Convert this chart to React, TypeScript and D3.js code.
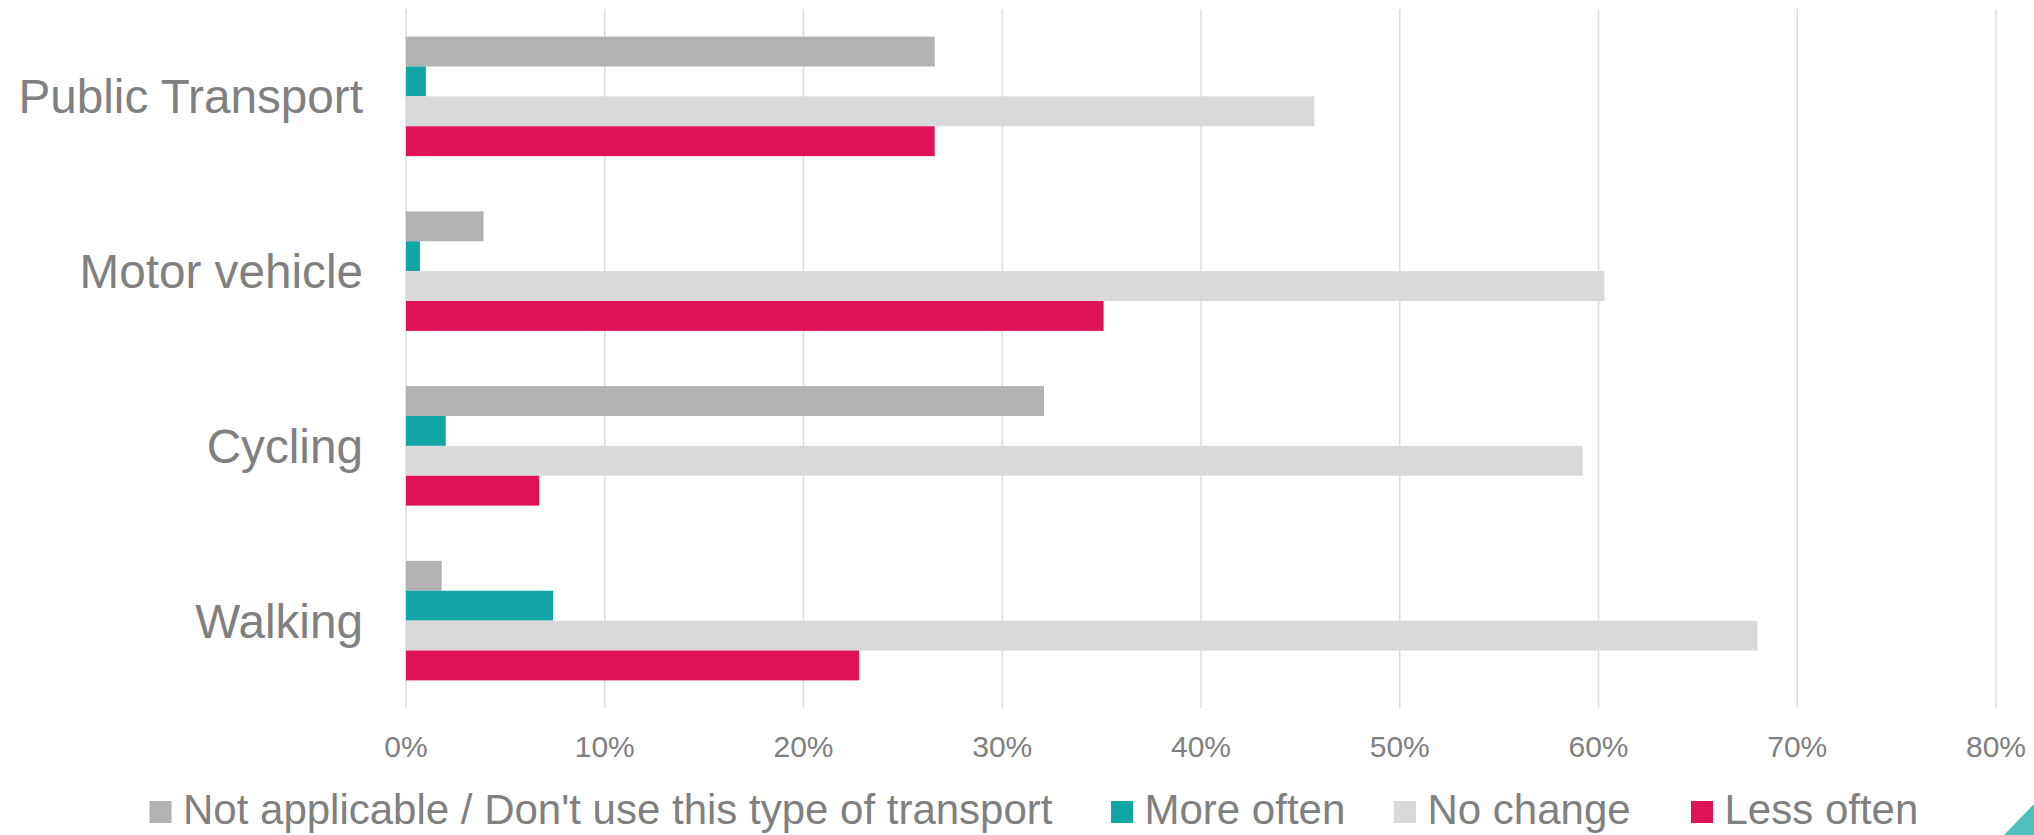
import React from "react";
import * as d3 from "d3";

const categories = ["Public Transport", "Motor vehicle", "Cycling", "Walking"];
const seriesNames = [
  "Not applicable / Don't use this type of transport",
  "More often",
  "No change",
  "Less often",
];
const notApplicable = [26.6, 3.9, 32.1, 1.8];
const moreOften = [1.0, 0.7, 2.0, 7.4];
const noChange = [45.7, 60.3, 59.2, 68.0];
const lessOften = [26.6, 35.1, 6.7, 22.8];
const xTicks = [0, 10, 20, 30, 40, 50, 60, 70, 80];

const seriesValues = [notApplicable, moreOften, noChange, lessOften];
const seriesColors = ["#B2B2B3", "#12A5A5", "#D9D9DB", "#E01257"];

const W = 2034;
const H = 835;
const plot = { left: 406, right: 1996, top: 9, bottom: 708 };
const legendX = [149.5, 1111, 1394, 1691];
const FONT = "'Liberation Sans', Arial, sans-serif";
const TEXT = "#808080";

export default function App() {
  const x = d3.scaleLinear().domain([0, 80]).range([plot.left, plot.right]);
  const y = d3
    .scaleBand<string>()
    .domain(categories)
    .range([plot.top, plot.bottom])
    .paddingInner(0.316)
    .paddingOuter(0.158);
  const inner = d3
    .scaleBand<string>()
    .domain(seriesNames)
    .range([0, y.bandwidth()]);
  const fmt = (v: number) => `${v}%`;

  return (
    <svg
      width={W}
      height={H}
      style={{ position: "absolute", left: 0, top: 0, background: "#fff" }}
      fontFamily={FONT}
    >
      <rect x={0} y={0} width={W} height={H} fill="#fff" />
      {xTicks.map((t) => (
        <line
          key={"g" + t}
          x1={x(t)}
          x2={x(t)}
          y1={plot.top}
          y2={plot.bottom}
          stroke="#DCDCDC"
          strokeWidth={1.5}
        />
      ))}
      {categories.map((c, ci) => (
        <g key={c} transform={`translate(0,${y(c)})`}>
          {seriesNames.map((s, si) => (
            <rect
              key={s}
              x={x(0)}
              y={inner(s)}
              width={x(seriesValues[si][ci]) - x(0)}
              height={inner.bandwidth()}
              fill={seriesColors[si]}
            />
          ))}
        </g>
      ))}
      {categories.map((c) => (
        <text
          key={"l" + c}
          x={363}
          y={(y(c) as number) + y.bandwidth() / 2 + 17}
          textAnchor="end"
          fontSize={47.7}
          fill={TEXT}
        >
          {c}
        </text>
      ))}
      {xTicks.map((t) => (
        <text
          key={"t" + t}
          x={x(t)}
          y={757}
          textAnchor="middle"
          fontSize={30}
          fill={TEXT}
        >
          {fmt(t)}
        </text>
      ))}
      {seriesNames.map((s, i) => (
        <g key={"lg" + s} transform={`translate(${legendX[i]},0)`}>
          <rect x={0} y={801} width={22} height={22} fill={seriesColors[i]} />
          <text x={33.5} y={824} fontSize={42} fill={TEXT}>
            {s}
          </text>
        </g>
      ))}
      <polygon points={`2004,${H} ${W},804 ${W},${H}`} fill="#4FBFBC" />
    </svg>
  );
}
